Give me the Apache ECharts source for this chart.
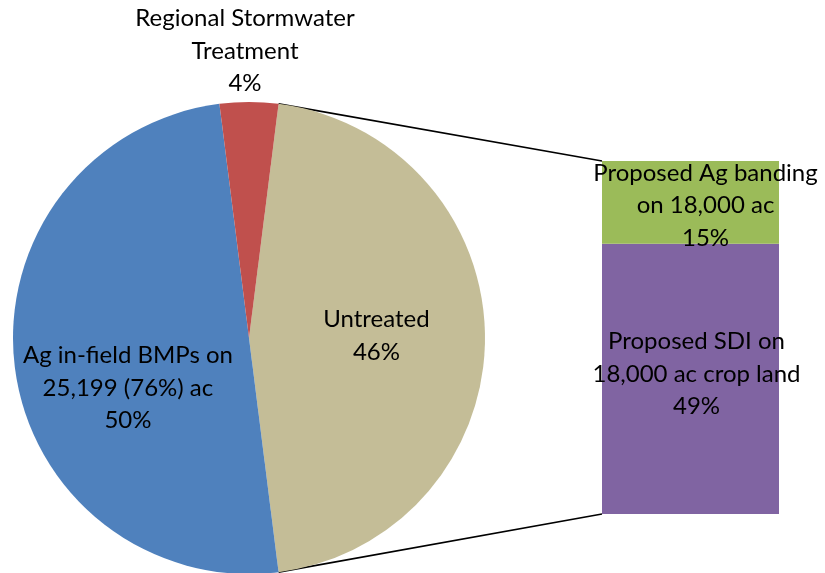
<!DOCTYPE html>
<html>
<head>
<meta charset="utf-8">
<style>
  html, body { margin: 0; padding: 0; background: #ffffff; }
  #chart { width: 825px; height: 573px; }
</style>
<script src="https://cdn.jsdelivr.net/npm/echarts@6/dist/echarts.min.js"></script>
</head>
<body>
<div id="chart"></div>
<script>
// Pie slices (share of total)
const pieNames = ['Untreated', 'Ag in-field BMPs on\n25,199 (76%) ac', 'Regional Stormwater\nTreatment'];
const pieValues = [46, 50, 4];
const pieColors = ['#C4BD97', '#4F81BD', '#C0504D'];

// Breakdown bar (stacked, bottom to top)
const barNames = ['Proposed SDI on\n18,000 ac crop land', 'Proposed Ag banding\non 18,000 ac'];
const barValues = [49, 15];
const barColors = ['#8064A2', '#9BBB59'];

const FONT = 'Lato, "Liberation Sans", sans-serif';
const FONT_SIZE = 24;
const LINE_H = 32.5;
const PIE_CX = 249, PIE_CY = 338, PIE_R = 236;
const BAR = { left: 602, top: 161, width: 177, height: 353 };

const pieTotal = pieValues.reduce((a, b) => a + b, 0);
const barTotal = barValues.reduce((a, b) => a + b, 0);
// rotate so the first slice faces the bar on the right
const startAngle = (pieValues[0] / pieTotal) * 360 / 2;

function piePoint(deg, rad) {
  const t = deg * Math.PI / 180;
  return [PIE_CX + rad * Math.cos(t), PIE_CY - rad * Math.sin(t)];
}

// label anchors, as fractions of the radius from the pie centre
const labelAnchor = [
  { fx: 0.54, fy: -0.01, v: 'middle' },
  { fx: -0.513, fy: 0.212, v: 'middle' },
  { fx: -0.017, fy: -1.01, v: 'bottom' }
];

const chart = echarts.init(document.getElementById('chart'), null, { renderer: 'canvas' });

const topEdge = piePoint(startAngle, PIE_R);
const bottomEdge = piePoint(-startAngle, PIE_R);

const textStyle = {
  color: '#000000', fontFamily: FONT, fontSize: FONT_SIZE, lineHeight: LINE_H, align: 'center'
};

chart.setOption({
  animation: false,
  backgroundColor: '#ffffff',
  grid: { left: BAR.left, top: BAR.top, width: BAR.width, height: BAR.height, containLabel: false },
  xAxis: { type: 'category', data: [''], show: false },
  yAxis: { type: 'value', min: 0, max: barTotal, show: false },
  graphic: [
    { type: 'line', silent: true, z: 1,
      shape: { x1: topEdge[0], y1: topEdge[1], x2: BAR.left, y2: BAR.top },
      style: { stroke: '#000000', lineWidth: 1.6 } },
    { type: 'line', silent: true, z: 1,
      shape: { x1: bottomEdge[0], y1: bottomEdge[1], x2: BAR.left, y2: BAR.top + BAR.height },
      style: { stroke: '#000000', lineWidth: 1.6 } }
  ],
  series: [
    {
      type: 'pie',
      center: [PIE_CX, PIE_CY],
      radius: [0, PIE_R],
      startAngle: startAngle,
      clockwise: true,
      avoidLabelOverlap: false,
      itemStyle: { borderWidth: 0 },
      label: Object.assign({
        show: true,
        position: 'inside',
        formatter: p => p.name + '\n' + p.value + '%'
      }, textStyle),
      labelLine: { show: false },
      labelLayout: function (params) {
        const a = labelAnchor[params.dataIndex];
        return {
          x: PIE_CX + a.fx * PIE_R,
          y: PIE_CY + a.fy * PIE_R,
          align: 'center',
          verticalAlign: a.v
        };
      },
      data: pieNames.map((n, i) => ({
        name: n, value: pieValues[i], itemStyle: { color: pieColors[i] }
      }))
    },
    {
      type: 'bar',
      stack: 'breakdown',
      barWidth: '100%',
      data: [{ value: barValues[0], itemStyle: { color: barColors[0] } }],
      label: Object.assign({
        show: true, position: 'inside', offset: [6, -5],
        formatter: () => barNames[0] + '\n' + barValues[0] + '%'
      }, textStyle)
    },
    {
      type: 'bar',
      stack: 'breakdown',
      barWidth: '100%',
      data: [{ value: barValues[1], itemStyle: { color: barColors[1] } }],
      label: Object.assign({
        show: true, position: 'inside', offset: [15, 3],
        formatter: () => barNames[1] + '\n' + barValues[1] + '%'
      }, textStyle)
    }
  ]
});
</script>
</body>
</html>
